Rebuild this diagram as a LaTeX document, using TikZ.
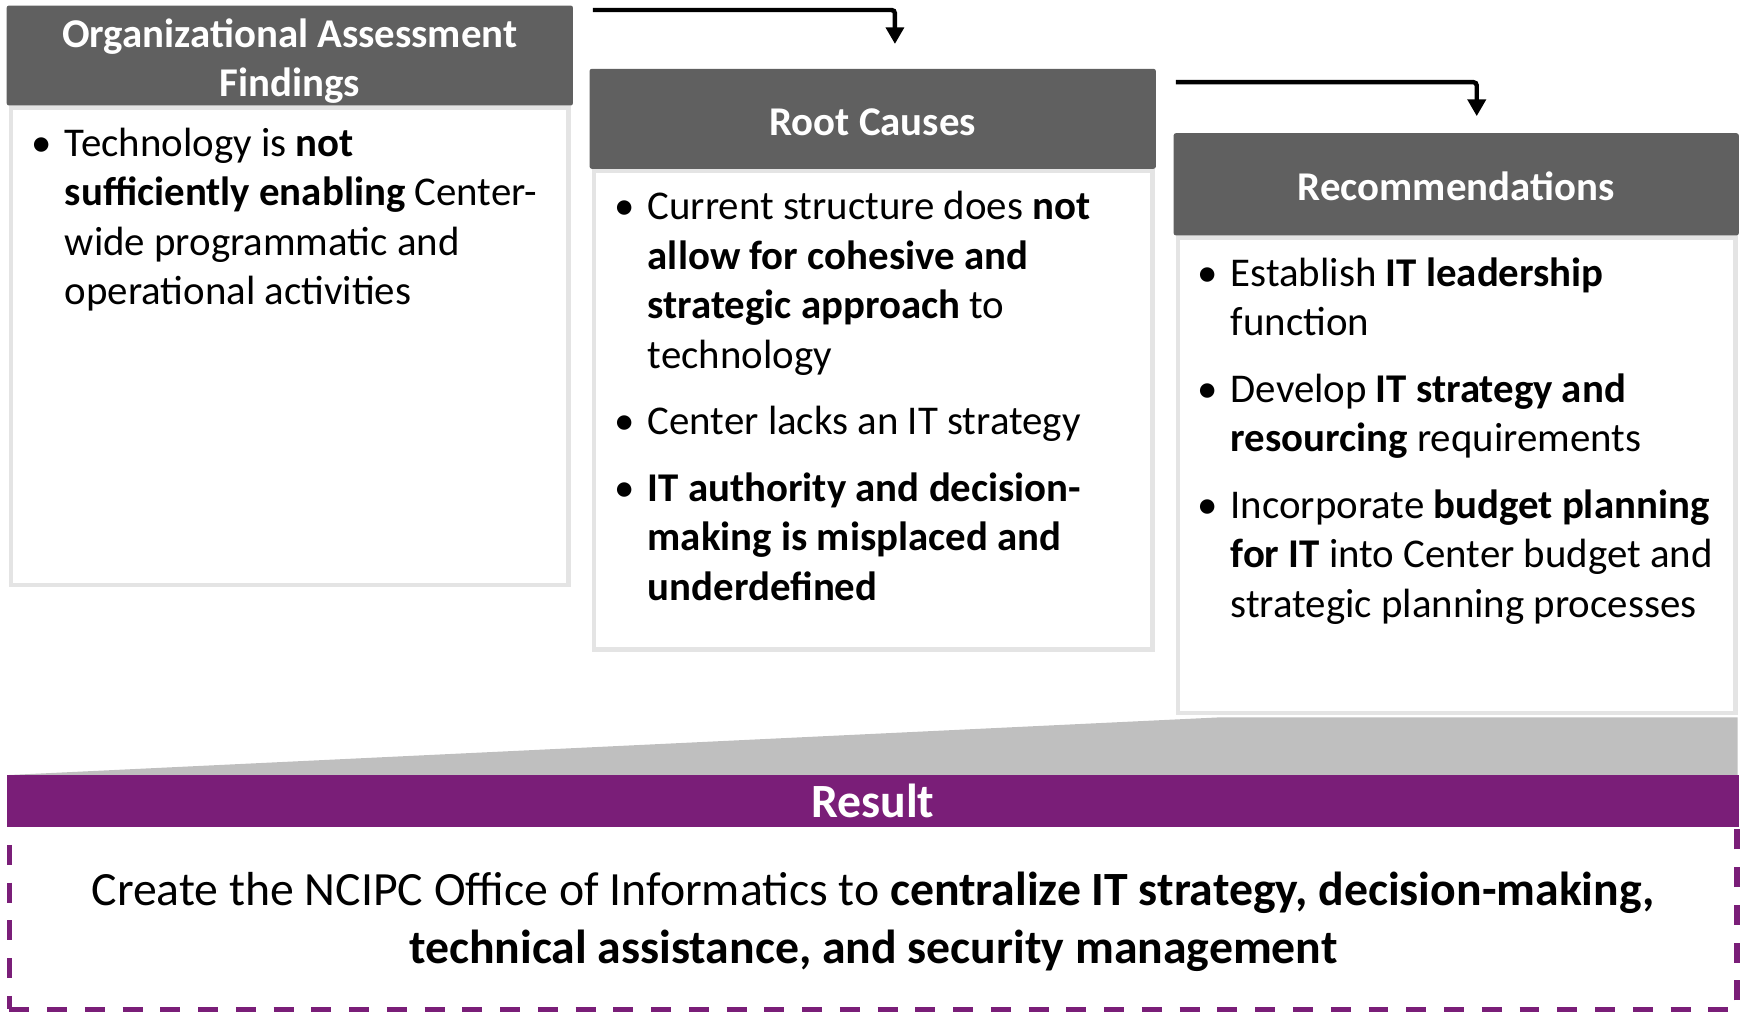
\documentclass[tikz,border=0pt]{standalone}
\usepackage{fontspec}
\setmainfont{Carlito}
\usetikzlibrary{arrows.meta,calc}
\definecolor{hdrgray}{RGB}{96,96,96}
\definecolor{bordgray}{RGB}{228,228,228}
\definecolor{trapgray}{RGB}{191,191,191}
\definecolor{purp}{RGB}{122,30,120}
\newcommand{\bitem}[1]{\noindent\hangindent=15pt\hangafter=1\makebox[15pt][l]{\textbullet}#1\par}
\newcommand{\bsep}{\vspace{7.75pt}}
\begin{document}
\begin{tikzpicture}[x=0.5pt,y=-0.5pt,
  hdr/.style={fill=hdrgray,inner sep=0pt,rounded corners=1pt},
  hdrtext/.style={text=white,font=\fontsize{18.4}{22}\selectfont\bfseries,align=center,inner sep=0pt},
  bodybox/.style={draw=bordgray,line width=2pt,fill=white,inner sep=0pt},
  btext/.style={anchor=base west,inner sep=0pt,text width=250pt,align=flush left,font=\fontsize{18.4}{22.25}\selectfont},
  arr/.style={line width=2pt,rounded corners=1.5pt,-{Triangle[width=8pt,length=7.5pt]}}]
\useasboundingbox (0,0) rectangle (1568,911);
% bodies
\node[bodybox,minimum width=251pt,minimum height=215pt] (b1) at (261,312) {};
\node[bodybox,minimum width=251.5pt,minimum height=215.5pt] (b2) at (786.5,369.5) {};
\node[bodybox,minimum width=251pt,minimum height=214pt] (b3) at (1312,428) {};
% headers
\node[hdr,minimum width=255pt,minimum height=45pt] (h1) at (261,50) {};
\node[hdr,minimum width=255pt,minimum height=45pt] (h2) at (786,107) {};
\node[hdr,minimum width=254.5pt,minimum height=46pt] (h3) at (1311.5,166) {};
\node[hdrtext] (h1t) at (261,55) {Organizational Assessment\\Findings};
\node[hdrtext] (h2t) at (786,110) {Root Causes};
\node[hdrtext] (h3t) at (1311.5,167.5) {Recommendations};
% texts
\node[btext] (t1) at (28,141) {\bitem{Technology is \textbf{not}\newline\textbf{sufficiently enabling} Center-\newline wide programmatic and\newline operational activities}};
\node[btext] (t2) at (553,198) {\bitem{Current structure does \textbf{not}\newline\textbf{allow for cohesive and}\newline\textbf{strategic approach} to\newline technology}\bsep
\bitem{Center lacks an IT strategy}\bsep
\bitem{\textbf{IT authority and decision-}\newline\textbf{making is misplaced and}\newline\textbf{underdefined}}};
\node[btext] (t3) at (1078,258) {\bitem{Establish \textbf{IT leadership}\newline function}\bsep
\bitem{Develop \textbf{IT strategy and}\newline\textbf{resourcing} requirements}\bsep
\bitem{Incorporate \textbf{budget planning}\newline\textbf{for IT} into Center budget and\newline strategic planning processes}};
% arrows
\coordinate (a1) at (534,9);
\draw[arr] (a1) -| ($(h2.north)+(20,-22)$);
\coordinate (a2) at (1059,74);
\draw[arr] (a2) -| ($(h3.north)+(18.5,-15)$);
% result
\fill[trapgray] (8,698) -- (1100,646) -- (1565,646) -- (1565,698) -- cycle;
\node[draw=purp,line width=2.4pt,dash pattern=on 9pt off 8pt,minimum width=778pt,minimum height=83.5pt,inner sep=0pt] (res) at (786.5,825.5) {};
\node[fill=purp,text=white,font=\fontsize{21.5}{26}\selectfont\bfseries,minimum width=780pt,minimum height=23.5pt,inner sep=0pt] (rb) at (786,721.5) {Result};
\node[font=\fontsize{21.5}{26}\selectfont,align=center,inner sep=0pt] (rt) at ($(res.center)+(0,5)$) {Create the NCIPC Office of Informatics to \textbf{centralize IT strategy, decision-making,}\\\textbf{technical assistance, and security management}};
\end{tikzpicture}
\end{document}
